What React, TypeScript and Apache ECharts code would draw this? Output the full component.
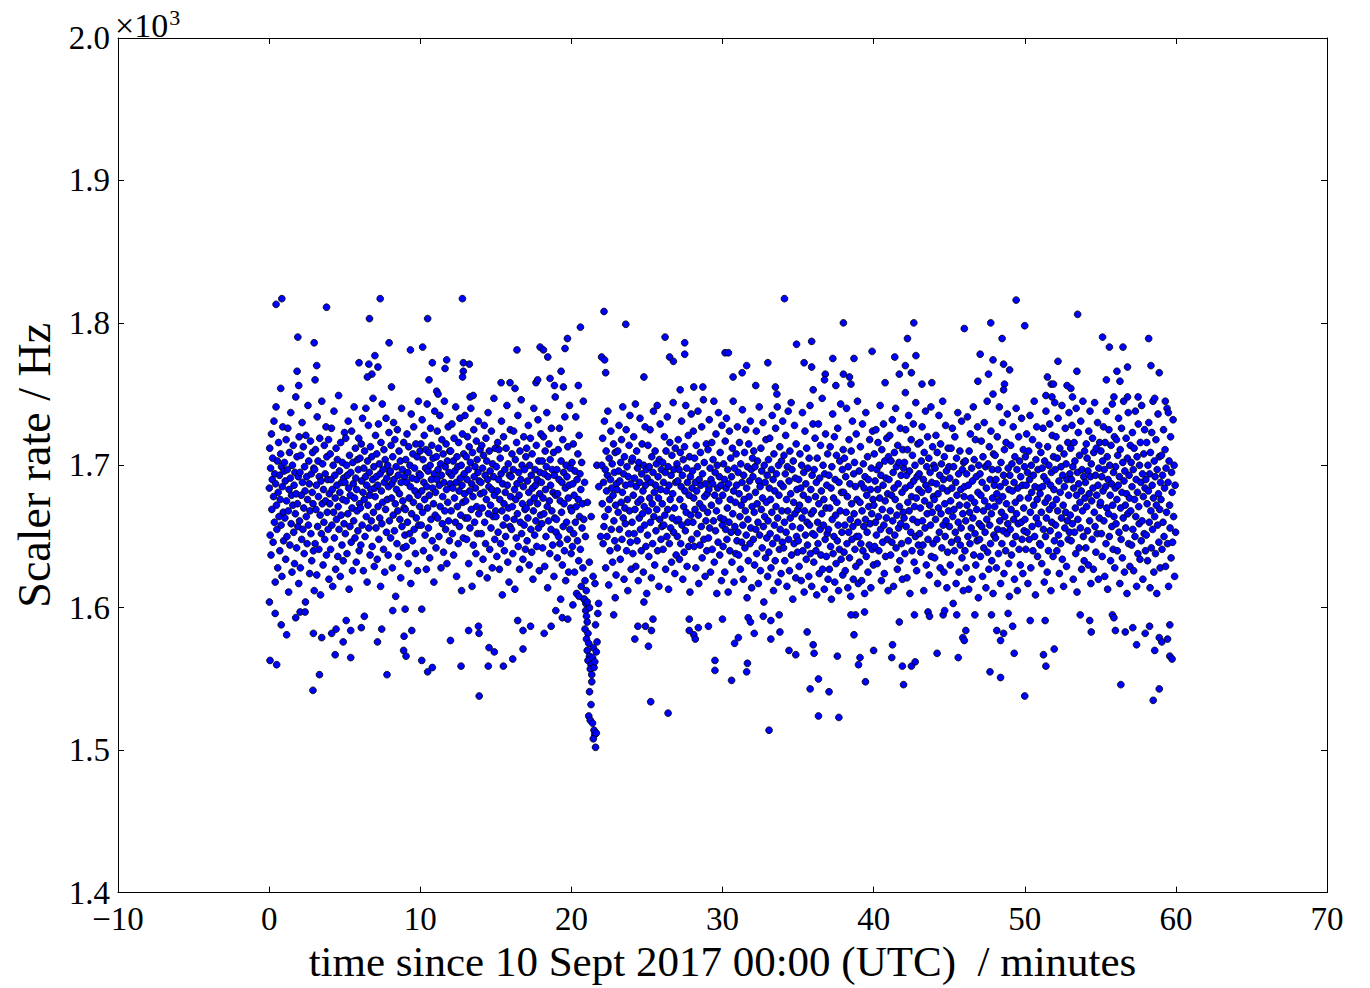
import React, { useEffect, useRef } from "react";
import * as echarts from "echarts";

// Scaler rate samples (Hz), one list per minute, in time order within the minute.
const minutes00to09: number[][] = [
  [1684,1712,1651,1698,1637,1722,1669,1690,1705,1646,1678,1731,1660,1694,1618,1687,1741,1672,1655,1703,1628,1681,1716,1664,1693,1640,1676,1708,1658,1699,1622,1685,1727,1667,1647,1696],
  [1702,1663,1689,1634,1718,1675,1650,1697,1726,1668,1611,1683,1709,1644,1691,1737,1659,1679,1625,1700,1672,1714,1653,1686,1631,1695,1666,1748,1680,1642,1706,1673,1657,1692,1617,1720],
  [1661,1695,1628,1707,1679,1648,1730,1688,1655,1713,1670,1638,1699,1682,1604,1721,1664,1692,1645,1676,1742,1658,1703,1687,1624,1668,1717,1652,1694,1633,1681,1709,1673,1640,1698,1612],
  [1697,1645,1711,1669,1686,1623,1734,1657,1703,1678,1641,1692,1719,1665,1609,1689,1652,1745,1673,1701,1630,1683,1660,1714,1648,1694,1675,1727,1637,1706,1667,1690,1655,1718,1620,1680],
  [1673,1708,1641,1690,1726,1658,1683,1615,1700,1667,1738,1649,1693,1677,1627,1712,1662,1686,1704,1636,1671,1749,1655,1696,1681,1622,1716,1665,1688,1644,1702,1676,1633,1691,1659,1723],
  [1688,1652,1719,1675,1700,1638,1693,1666,1731,1684,1613,1707,1657,1679,1695,1646,1724,1670,1626,1702,1687,1661,1741,1677,1649,1712,1691,1632,1683,1668,1704,1654,1697,1719,1640,1673],
  [1705,1670,1644,1715,1689,1658,1733,1681,1626,1698,1676,1710,1650,1692,1740,1664,1686,1618,1703,1672,1728,1656,1695,1679,1637,1713,1683,1661,1706,1643,1690,1747,1667,1699,1629,1684],
  [1678,1721,1656,1692,1708,1634,1686,1671,1729,1648,1701,1663,1694,1615,1716,1682,1659,1743,1674,1697,1641,1711,1688,1625,1704,1669,1733,1653,1691,1676,1700,1637,1685,1723,1661,1695],
  [1696,1649,1714,1677,1687,1628,1706,1665,1730,1690,1654,1718,1673,1608,1699,1683,1645,1725,1668,1693,1636,1710,1680,1662,1703,1621,1688,1740,1657,1697,1675,1642,1716,1670,1692,1651],
  [1669,1704,1643,1688,1722,1660,1695,1631,1713,1677,1652,1700,1685,1617,1736,1666,1691,1647,1708,1674,1727,1655,1698,1682,1638,1715,1663,1690,1706,1626,1679,1745,1658,1694,1671,1710],
];
const minutes10to19: number[][] = [
  [1693,1715,1658,1682,1732,1667,1704,1640,1688,1721,1676,1651,1698,1711,1627,1685,1743,1670,1696,1656,1709,1679,1635,1700,1726,1662,1690,1714,1647,1684,1705,1673,1618,1694,1738,1665],
  [1681,1642,1706,1690,1724,1663,1697,1712,1650,1686,1735,1671,1701,1628,1693,1718,1659,1678,1708,1639,1688,1745,1668,1699,1655,1715,1683,1631,1703,1674,1727,1661,1695,1647,1710,1687],
  [1710,1668,1693,1729,1652,1684,1703,1637,1719,1677,1696,1660,1741,1688,1622,1706,1671,1699,1645,1716,1682,1657,1733,1691,1665,1700,1612,1686,1722,1674,1649,1708,1694,1680,1735,1663],
  [1675,1706,1648,1690,1720,1663,1697,1631,1713,1682,1656,1702,1740,1669,1687,1615,1709,1678,1644,1725,1692,1660,1699,1684,1638,1717,1671,1704,1652,1695,1731,1666,1689,1624,1711,1680],
  [1688,1652,1714,1670,1698,1634,1707,1681,1728,1660,1693,1645,1719,1676,1703,1621,1690,1737,1666,1685,1710,1641,1696,1672,1656,1724,1683,1628,1701,1664,1692,1747,1679,1648,1712,1668],
  [1664,1699,1636,1682,1716,1653,1690,1711,1627,1676,1705,1645,1694,1731,1668,1609,1687,1658,1720,1673,1640,1697,1681,1650,1712,1663,1742,1686,1632,1701,1670,1618,1693,1657,1725,1678],
  [1692,1655,1708,1671,1638,1697,1724,1662,1683,1613,1704,1676,1649,1716,1687,1666,1735,1643,1695,1679,1627,1710,1660,1690,1746,1652,1700,1673,1634,1685,1720,1658,1697,1669,1641,1706],
  [1670,1712,1647,1689,1663,1728,1681,1630,1700,1674,1719,1655,1693,1639,1708,1684,1620,1668,1740,1677,1651,1697,1686,1661,1714,1643,1690,1673,1732,1656,1703,1626,1680,1695,1665,1722],
  [1688,1659,1703,1642,1677,1720,1666,1694,1629,1710,1683,1650,1699,1737,1671,1614,1692,1661,1715,1675,1638,1704,1686,1655,1726,1668,1697,1644,1681,1709,1622,1693,1663,1748,1679,1653],
  [1662,1697,1635,1680,1711,1650,1690,1726,1645,1675,1606,1703,1667,1688,1630,1718,1657,1695,1673,1640,1734,1684,1619,1700,1660,1692,1648,1713,1677,1625,1686,1742,1655,1698,1670,1638],
];
const minutes20to29: number[][] = [
  [1668,1702,1643,1687,1715,1652,1679,1625,1696,1660,1734,1671,1610,1690,1647,1708,1676,1633,1721,1664,1694,1641,1683,1615,1702,1656,1673,1628,1745,1662,1606,1688,1619,1650,1603,1612],
  [1674,1632,1664,1622,1617,1700,1685,1650],
  [1700,1673,1719,1645,1688,1657,1731,1664,1697,1628,1710,1682,1650,1693,1738,1669,1616,1705,1676,1640,1690,1724,1655,1684,1701,1632,1679,1715,1661,1695,1647,1709,1672,1623,1687],
  [1683,1642,1710,1667,1696,1728,1655,1689,1634,1702,1674,1718,1648,1681,1741,1663,1694,1620,1706,1670,1659,1686,1725,1640,1699,1676,1612,1692,1652,1714,1668,1735,1646,1687,1627,1703],
  [1660,1705,1638,1679,1720,1652,1691,1669,1743,1629,1685,1710,1647,1698,1674,1619,1702,1663,1688,1733,1655,1676,1640,1694,1715,1666,1682,1625,1700,1671,1658,1727,1686,1643,1697,1610],
  [1691,1651,1714,1668,1636,1699,1677,1725,1660,1688,1621,1706,1673,1645,1695,1738,1664,1681,1630,1710,1686,1654,1701,1669,1742,1640,1692,1677,1615,1704,1662,1729,1683,1648,1697,1657],
  [1673,1702,1641,1688,1658,1720,1665,1695,1627,1710,1682,1650,1734,1669,1699,1613,1686,1645,1716,1676,1656,1693,1632,1707,1663,1680,1744,1653,1697,1670,1624,1712,1688,1637,1661,1701],
  [1650,1689,1718,1662,1697,1634,1676,1709,1645,1685,1731,1658,1693,1620,1704,1671,1639,1713,1682,1654,1742,1667,1698,1629,1688,1660,1721,1643,1679,1706,1611,1692,1665,1736,1648,1684],
  [1696,1660,1724,1677,1643,1705,1669,1688,1628,1714,1682,1652,1699,1738,1665,1617,1690,1673,1644,1709,1686,1657,1727,1635,1694,1670,1746,1648,1702,1678,1622,1687,1661,1715,1640,1680],
  [1667,1711,1649,1683,1732,1656,1698,1625,1690,1672,1716,1641,1687,1704,1661,1745,1632,1679,1695,1654,1722,1668,1610,1700,1684,1646,1737,1675,1692,1637,1709,1663,1686,1619,1728,1658],
];
const minutes30to39: number[][] = [
  [1679,1643,1701,1662,1690,1625,1717,1655,1684,1733,1648,1670,1697,1611,1687,1660,1724,1640,1676,1705,1653,1692,1632,1712,1666,1745,1682,1618,1698,1657,1674,1638,1708,1686,1647,1727],
  [1653,1695,1637,1680,1716,1664,1627,1701,1672,1646,1688,1739,1658,1620,1693,1676,1709,1642,1668,1725,1651,1684,1607,1699,1662,1633,1715,1678,1689,1645,1731,1656,1697,1614,1671,1705],
  [1692,1648,1710,1667,1630,1699,1681,1655,1724,1638,1673,1703,1660,1617,1689,1741,1651,1685,1626,1712,1669,1696,1642,1677,1730,1657,1604,1700,1664,1688,1635,1718,1674,1649,1693,1622],
  [1661,1704,1639,1684,1719,1652,1676,1628,1697,1667,1735,1645,1690,1612,1708,1658,1682,1633,1726,1671,1694,1649,1741,1663,1618,1700,1679,1641,1713,1655,1687,1624,1703,1668,1646,1731],
  [1685,1642,1707,1660,1633,1694,1721,1653,1676,1615,1699,1668,1738,1648,1689,1626,1710,1663,1680,1744,1637,1697,1657,1606,1703,1674,1645,1728,1666,1691,1621,1715,1650,1683,1639,1669],
  [1647,1690,1629,1672,1708,1656,1684,1619,1700,1663,1737,1640,1679,1695,1611,1668,1724,1651,1687,1634,1712,1660,1644,1698,1676,1622,1705,1658,1742,1638,1683,1666,1615,1693,1652,1729],
  [1668,1632,1697,1651,1719,1678,1640,1688,1609,1705,1660,1645,1729,1673,1624,1691,1655,1714,1637,1682,1666,1747,1627,1700,1658,1676,1613,1694,1648,1722,1670,1636,1686,1652,1708,1620],
  [1655,1693,1627,1670,1713,1643,1684,1606,1699,1662,1736,1638,1677,1650,1720,1618,1690,1665,1631,1707,1674,1647,1726,1658,1612,1688,1641,1703,1668,1743,1634,1681,1653,1697,1623,1711],
  [1681,1639,1705,1658,1626,1692,1667,1740,1645,1678,1614,1699,1653,1718,1635,1687,1662,1608,1710,1673,1648,1731,1657,1620,1694,1666,1702,1641,1685,1629,1722,1650,1676,1745,1660,1617],
  [1650,1696,1632,1674,1713,1645,1687,1619,1668,1729,1640,1701,1657,1684,1610,1692,1662,1737,1636,1679,1653,1706,1625,1690,1671,1644,1718,1659,1683,1614,1698,1666,1641,1724,1676,1630],
];
const minutes40to49: number[][] = [
  [1672,1708,1643,1689,1660,1725,1651,1697,1631,1683,1716,1664,1640,1700,1677,1742,1655,1693,1619,1711,1669,1646,1686,1729,1658,1624,1703,1675,1636,1691,1663,1719,1648,1680,1612,1706],
  [1690,1654,1721,1668,1637,1703,1679,1646,1732,1661,1695,1615,1684,1709,1651,1676,1740,1642,1699,1665,1627,1714,1687,1656,1702,1671,1633,1726,1659,1693,1645,1681,1620,1711,1667,1698],
  [1663,1702,1638,1684,1725,1657,1693,1621,1711,1674,1647,1735,1668,1696,1610,1686,1653,1718,1678,1640,1707,1662,1729,1689,1632,1671,1700,1650,1744,1677,1626,1692,1660,1715,1644,1683],
  [1694,1652,1716,1670,1639,1703,1681,1727,1661,1644,1690,1612,1709,1675,1656,1738,1686,1630,1699,1666,1720,1648,1683,1705,1623,1672,1695,1658,1741,1636,1688,1667,1713,1645,1678,1700],
  [1676,1635,1698,1662,1721,1687,1648,1709,1617,1680,1670,1735,1653,1693,1628,1715,1666,1701,1642,1684,1745,1658,1690,1625,1706,1673,1650,1728,1661,1696,1614,1682,1639,1712,1668,1699],
  [1657,1691,1630,1675,1712,1646,1684,1726,1664,1603,1699,1669,1640,1720,1653,1688,1617,1705,1679,1648,1737,1660,1694,1625,1672,1710,1644,1683,1656,1731,1635,1697,1666,1612,1702,1678],
  [1685,1640,1703,1661,1628,1694,1672,1734,1650,1686,1613,1710,1667,1645,1722,1677,1656,1698,1620,1689,1663,1741,1637,1704,1674,1652,1718,1630,1692,1669,1647,1727,1681,1607,1700,1659],
  [1648,1694,1636,1679,1717,1657,1688,1622,1706,1668,1642,1730,1675,1653,1699,1614,1684,1662,1745,1639,1701,1671,1627,1713,1658,1690,1645,1724,1666,1633,1697,1677,1610,1708,1651,1686],
  [1671,1707,1649,1690,1628,1680,1720,1655,1697,1638,1675,1741,1661,1685,1617,1702,1667,1645,1730,1678,1654,1693,1624,1711,1664,1688,1640,1716,1673,1652,1736,1659,1698,1631,1683,1608],
  [1693,1655,1714,1669,1637,1701,1682,1645,1727,1662,1688,1620,1706,1674,1650,1740,1666,1697,1612,1684,1659,1720,1641,1703,1677,1630,1692,1660,1733,1648,1686,1624,1711,1670,1654,1699],
];
const minutes50to59: number[][] = [
  [1662,1706,1641,1686,1722,1653,1695,1617,1677,1710,1648,1690,1735,1667,1628,1700,1681,1657,1718,1640,1693,1672,1745,1650,1685,1609,1704,1663,1727,1676,1636,1697,1659,1714,1684,1645],
  [1680,1644,1709,1667,1631,1698,1685,1726,1655,1692,1618,1703,1674,1650,1738,1663,1689,1625,1713,1677,1640,1700,1669,1729,1654,1686,1612,1695,1660,1721,1672,1636,1706,1683,1647,1744],
  [1697,1658,1720,1676,1640,1705,1668,1733,1651,1689,1624,1712,1681,1645,1699,1663,1742,1634,1693,1672,1615,1708,1685,1656,1726,1667,1701,1629,1690,1661,1716,1648,1679,1737,1653,1694],
  [1665,1712,1647,1690,1728,1659,1699,1620,1684,1716,1653,1703,1670,1638,1740,1679,1611,1695,1662,1723,1687,1642,1707,1674,1656,1731,1682,1627,1697,1668,1745,1650,1692,1633,1710,1677],
  [1688,1642,1715,1671,1705,1654,1696,1630,1724,1680,1661,1738,1692,1617,1701,1675,1648,1719,1684,1627,1709,1667,1744,1657,1693,1639,1712,1679,1652,1730,1686,1620,1698,1663,1716,1672],
  [1674,1710,1652,1692,1636,1703,1682,1727,1661,1697,1622,1716,1685,1645,1738,1670,1706,1613,1690,1666,1725,1650,1700,1679,1633,1714,1687,1657,1743,1672,1641,1695,1664,1720,1628,1684],
  [1699,1659,1718,1676,1640,1707,1686,1733,1653,1692,1617,1711,1670,1648,1726,1681,1635,1702,1663,1745,1689,1625,1696,1672,1656,1719,1680,1610,1705,1666,1737,1645,1693,1677,1629,1714],
  [1668,1702,1644,1685,1723,1655,1697,1626,1712,1676,1650,1738,1664,1690,1615,1706,1681,1638,1729,1671,1659,1700,1634,1716,1688,1647,1742,1661,1694,1620,1678,1708,1652,1725,1684,1640],
  [1690,1651,1716,1673,1633,1700,1682,1730,1660,1694,1614,1709,1668,1642,1723,1686,1655,1745,1677,1625,1703,1664,1692,1638,1718,1672,1610,1697,1658,1736,1680,1646,1706,1669,1628,1688],
  [1676,1707,1641,1693,1660,1725,1650,1684,1711,1629,1698,1667,1740,1645,1688,1615,1703,1672,1656,1720,1635,1695,1681,1646,1732,1664,1700,1622,1686,1653],
];

// Individual readings above the main band: [minutes, Hz]
const highReadings: number[][] = [
  [0.46,1813],[0.84,1817],[3.8,1811],[7.35,1817],[6.64,1803],[1.9,1790],[2.98,1786],[7.94,1786],[9.35,1781],[3.15,1770],[1.85,1766],[3.04,1760],[1.96,1756],[0.77,1754],[5.95,1772],[6.6,1771],[7.2,1769],[7.0,1777],[6.8,1764],[6.5,1762],[8.1,1755],
  [12.79,1817],[10.49,1803],[10.16,1783],[16.4,1781],[17.93,1783],[18.15,1781],[18.44,1776],[19.58,1782],[19.74,1789],[10.8,1772],[11.64,1768],[11.75,1774],[12.85,1772],[13.25,1771],[12.85,1766],[12.8,1762],[10.58,1760],[11.09,1752],[11.18,1750],[13.3,1748],[13.5,1749],[15.35,1758],[15.94,1758],[16.27,1754],[17.66,1758],[17.77,1760],[18.59,1761],[19.32,1766],[18.88,1756],[19.47,1755],
  [22.16,1808],[23.6,1799],[20.6,1797],[26.2,1790],[27.5,1786],[27.5,1778],[26.5,1776],[26.75,1773],[22.0,1776],[22.2,1774],[22.27,1765],[24.8,1762],[20.46,1756],[27.2,1753],[28.1,1755],[28.7,1755],
  [34.1,1817],[38.0,1800],[34.9,1785],[35.9,1787],[39.9,1780],[30.17,1779],[30.39,1779],[33.0,1772],[35.4,1772],[35.9,1769],[37.3,1775],[38.7,1775],[31.6,1770],[31.3,1765],[30.7,1762],[36.8,1764],[36.75,1760],[38.0,1764],[38.4,1762],[38.5,1757],[37.5,1756],[32.2,1756],[33.5,1755],[33.6,1750],[36.0,1753],
  [49.43,1816],[47.75,1800],[50.0,1798],[42.66,1800],[46.0,1796],[48.5,1789],[42.24,1789],[41.4,1776],[42.8,1777],[47.05,1778],[47.9,1774],[48.6,1771],[49.0,1767],[42.1,1770],[42.5,1765],[41.7,1764],[40.76,1758],[43.2,1757],[43.85,1758],[46.9,1759],[47.6,1764],[42.1,1751],[48.66,1757],[48.6,1753],[47.9,1750],
  [53.5,1806],[55.15,1790],[55.6,1783],[56.5,1783],[58.2,1789],[52.2,1773],[53.45,1766],[56.1,1766],[56.3,1759],[56.8,1769],[55.4,1760],[58.35,1770],[58.9,1765],[51.5,1762],[51.75,1757],[51.9,1757],[52.8,1756],[53.05,1754],[53.16,1748],[51.4,1749],[51.8,1748],[55.9,1748],[56.8,1748],[57.5,1748],[58.6,1747],[59.3,1745],[59.5,1737],
];

// Individual readings below the main band: [minutes, Hz]
const lowReadings: number[][] = [
  [0.06,1563],[0.5,1560],[2.9,1542],[3.33,1553],[7.8,1553],[4.37,1567],[5.4,1565],[4.9,1576],[7.17,1576],[8.9,1570],[9.06,1566],[0.02,1604],[0.4,1596],[0.8,1588],[1.16,1581],[2.93,1582],[3.48,1579],[4.14,1582],[4.43,1585],[5.1,1591],[5.4,1584],[6.1,1586],[6.3,1594],[7.45,1585],[8.18,1598],[9.0,1599],[8.93,1580],[9.44,1584],[2.05,1597],[2.38,1597],[1.76,1593],
  [10.1,1599],[10.1,1563],[10.49,1555],[10.8,1558],[12.0,1577],[12.7,1559],[13.9,1538],[13.2,1584],[13.85,1587],[13.89,1582],[14.55,1572],[14.9,1569],[14.5,1559],[15.5,1559],[16.12,1564],[16.8,1571],[16.45,1591],[16.8,1584],[17.3,1587],[18.2,1582],[18.66,1587],[18.97,1598],[19.4,1593],[19.76,1592],
  [20.1,1602],[20.5,1608],[22.8,1595],[22.9,1607],[24.8,1604],[24.4,1587],[24.9,1587],[25.4,1592],[25.3,1584],[24.2,1578],[25.1,1573],[27.8,1592],[28.4,1586],[27.8,1584],[28.1,1581],[28.2,1578],[29.07,1587],[29.5,1563],[29.5,1556],[25.25,1534],[26.4,1526],
  [30.0,1592],[31.7,1593],[31.85,1590],[32.7,1594],[33.2,1591],[33.75,1595],[32.1,1582],[33.2,1578],[33.8,1583],[31.05,1579],[30.8,1575],[31.65,1561],[31.6,1555],[30.6,1549],[34.4,1570],[34.85,1567],[35.6,1583],[36.0,1574],[36.06,1568],[36.35,1550],[35.8,1543],[37.05,1541],[36.35,1524],[37.7,1523],[33.08,1514],[37.6,1566],[39.1,1565],[39.0,1560],[38.7,1581],[39.46,1548],[40.0,1570],[38.8,1595],[38.5,1595],[39.4,1597],
  [41.7,1590],[41.25,1574],[41.2,1565],[41.9,1559],[42.5,1559],[42.75,1562],[41.98,1546],[44.2,1568],[45.6,1565],[45.9,1579],[46.0,1577],[46.1,1584],[48.9,1596],[49.2,1587],[48.15,1584],[48.6,1582],[48.4,1577],[47.7,1555],[48.4,1551],[49.3,1568],[50.0,1538],[44.6,1595],[44.7,1598],[45.5,1595],[46.7,1595],[47.8,1595],[42.7,1595],[43.6,1597],[43.7,1594],
  [51.35,1591],[50.36,1591],[51.24,1567],[51.95,1571],[51.4,1559],[53.67,1595],[54.3,1591],[54.4,1583],[55.8,1595],[55.9,1593],[56.0,1584],[56.65,1583],[57.15,1586],[57.4,1574],[57.97,1582],[58.26,1587],[58.6,1570],[58.9,1579],[59.07,1576],[59.45,1578],[59.6,1566],[59.75,1564],[59.6,1588],[56.36,1546],[58.9,1543],[58.5,1535],
];

// The drop in rate around minute 21: [minutes, Hz]
const dropReadings: number[][] = [
  [20.85,1606],[20.95,1598],[21.0,1594],[21.05,1590],[20.9,1585],[21.1,1582],[21.0,1578],[21.15,1575],[21.05,1570],[21.2,1566],[21.1,1563],[21.3,1560],[21.25,1557],[21.4,1565],[21.45,1572],[21.5,1558],[21.55,1562],[21.35,1553],[21.2,1541],[21.3,1532],[21.15,1524],[21.25,1521],[21.4,1519],[21.5,1514],[21.55,1511],[21.45,1508],[21.6,1502],[21.65,1512],[21.7,1576],[21.6,1588],[21.75,1596],[21.35,1548],[21.2,1600],[21.65,1569],[21.05,1604],[21.8,1603],
];

const minuteBlocks: [number, number[][]][] = [
  [0, minutes00to09],
  [10, minutes10to19],
  [20, minutes20to29],
  [30, minutes30to39],
  [40, minutes40to49],
  [50, minutes50to59],
];

const xTicks = [-10, 0, 10, 20, 30, 40, 50, 60, 70];
const yTicks = [1400, 1500, 1600, 1700, 1800, 1900, 2000];

function buildPoints(): number[][] {
  const pts: number[][] = [];
  for (const [start, block] of minuteBlocks) {
    block.forEach((rates, j) => {
      const n = rates.length;
      rates.forEach((r, i) => {
        pts.push([start + j + (i + 0.5) / n, r]);
      });
    });
  }
  return pts.concat(highReadings, lowReadings, dropReadings);
}

const FONT = "'Liberation Serif', 'Times New Roman', serif";

export default function App() {
  const ref = useRef<HTMLDivElement | null>(null);
  useEffect(() => {
    if (!ref.current) return;
    const chart = echarts.init(ref.current, undefined, { renderer: "svg" });
    const axisLine = { show: true, onZero: false, lineStyle: { color: "#000", width: 1 } };
    const tick = { show: true, inside: true, length: 6, lineStyle: { color: "#000", width: 1 } };
    const xFmt = (v: number) => (v < 0 ? "\u2212" + Math.abs(v) : String(v));
    chart.setOption({
      animation: false,
      backgroundColor: "#fff",
      title: [
        {
          text: "{a|\u00d710}{b|3}", left: 115, top: 6, padding: 0, itemGap: 0,
          textStyle: {
            color: "#000", fontFamily: FONT, fontSize: 34, fontWeight: "normal",
            rich: {
              a: { fontFamily: FONT, fontSize: 34, color: "#000", lineHeight: 36, verticalAlign: "bottom" },
              b: { fontFamily: FONT, fontSize: 22, color: "#000", lineHeight: 22, verticalAlign: "top", padding: [0, 0, 0, 1] },
            },
          },
        },
      ],
      grid: { left: 118, right: 43, top: 38, bottom: 93, containLabel: false },
      xAxis: [
        {
          type: "value", min: xTicks[0], max: xTicks[xTicks.length - 1], interval: 10,
          axisLine, axisTick: tick, splitLine: { show: false },
          axisLabel: { color: "#000", fontFamily: FONT, fontSize: 33, margin: 12, lineHeight: 28, formatter: xFmt },
          name: "time since 10 Sept 2017 00:00 (UTC)  / minutes",
          nameLocation: "middle", nameGap: 44,
          nameTextStyle: { color: "#000", fontFamily: FONT, fontSize: 43 },
        },
        {
          type: "value", position: "top", min: xTicks[0], max: xTicks[xTicks.length - 1], interval: 10,
          axisLine, axisTick: tick, axisLabel: { show: false }, splitLine: { show: false },
        },
      ],
      yAxis: [
        {
          type: "value", min: yTicks[0], max: yTicks[yTicks.length - 1], interval: 100,
          axisLine, axisTick: tick, splitLine: { show: false },
          axisLabel: { color: "#000", fontFamily: FONT, fontSize: 33, margin: 8, lineHeight: 16, formatter: (v: number) => (v / 1000).toFixed(1) },
          name: "Scaler rate / Hz",
          nameLocation: "middle", nameGap: 52,
          nameTextStyle: { color: "#000", fontFamily: FONT, fontSize: 46 },
        },
        {
          type: "value", position: "right", min: yTicks[0], max: yTicks[yTicks.length - 1], interval: 100,
          axisLine, axisTick: tick, axisLabel: { show: false }, splitLine: { show: false },
        },
      ],
      series: [
        {
          type: "scatter",
          xAxisIndex: 0, yAxisIndex: 0,
          data: buildPoints(),
          symbol: "circle",
          symbolSize: 6.8,
          progressive: 0,
          large: false,
          itemStyle: { color: "#0000ff", borderColor: "#000", borderWidth: 0.8, opacity: 1 },
          emphasis: { disabled: true },
        },
      ],
    });
    return () => chart.dispose();
  }, []);
  return (
    <div
      ref={ref}
      style={{ position: "absolute", left: 0, top: 0, width: 1370, height: 988, background: "#fff" }}
    />
  );
}
